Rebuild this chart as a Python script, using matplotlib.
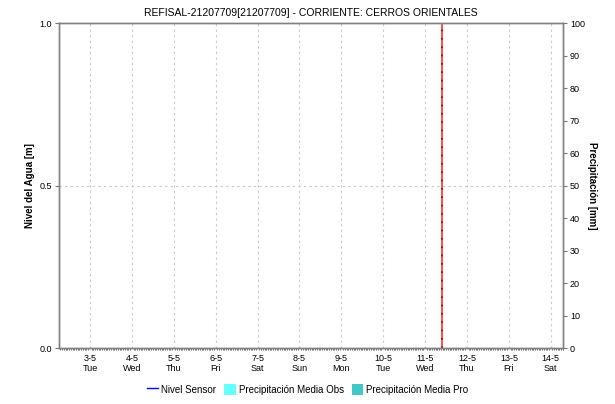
import numpy as np
import matplotlib
matplotlib.use('Agg')
import matplotlib.pyplot as plt
import matplotlib.dates as mdates
from matplotlib.patches import Patch
from matplotlib.lines import Line2D
from datetime import datetime, timedelta

plt.rcParams['font.family'] = ['Liberation Sans', 'DejaVu Sans']

# data (no sensor/precip values shown)
dias = ['3-5', '4-5', '5-5', '6-5', '7-5', '8-5', '9-5', '10-5', '11-5', '12-5', '13-5', '14-5']
semana = ['Tue', 'Wed', 'Thu', 'Fri', 'Sat', 'Sun', 'Mon', 'Tue', 'Wed', 'Thu', 'Fri', 'Sat']
nivel_t = []
nivel_v = []
precip_obs = []
precip_pro = []
inicio = datetime(2022, 5, 2, 6, 15)
fin = datetime(2022, 5, 14, 7, 0)
ahora = datetime(2022, 5, 11, 9, 45)

fig = plt.figure(figsize=(6.15, 4.04), dpi=100)
ax = fig.add_axes([0.0959, 0.1386, 0.8195, 0.8044])
ax2 = ax.twinx()

ax.plot(nivel_t, nivel_v, color='#0000ff', lw=1)
ax.set_xlim(inicio, fin)
ax.set_ylim(0, 1)
ax2.set_ylim(0, 100)

ticks = [datetime(2022, 5, 3) + timedelta(days=i) for i in range(len(dias))]
ax.set_xticks(ticks)
ax.set_xticklabels([f'{d}\n{s}' for d, s in zip(dias, semana)], fontsize=6.5, linespacing=1.2)
ax.xaxis.set_minor_locator(mdates.HourLocator(interval=1))
ax.tick_params(axis='x', which='major', length=0, pad=4)
ax.tick_params(axis='x', which='minor', length=1.5, width=0.5, color='#333333')
ax.set_yticks([0, 0.5, 1.0])
ax.set_yticklabels(['0.0', '0.5', '1.0'], fontsize=6.5)
ax.tick_params(axis='y', length=3, width=0.8, color='#777777', pad=2)
ax2.set_yticks(np.arange(0, 101, 10))
ax2.tick_params(axis='y', labelsize=6.5, length=3, width=0.8, color='#777777', pad=2)

ax.grid(True, axis='x', linestyle=(0, (2, 3)), color='#c8c8c8', lw=0.8)
ax.axhline(0.5, linestyle=(0, (2, 3)), color='#c8c8c8', lw=0.8)

for a in (ax, ax2):
    for s in a.spines.values():
        s.set_color('#808080')
        s.set_linewidth(1)

ax.axvline(ahora, color='#ff3030', lw=1.2)
ax.axvline(ahora, color='#aa0000', lw=1.2, linestyle=(0, (1, 4)))

ax.set_ylabel('Nivel del Agua [m]', fontsize=7, fontweight='bold', labelpad=3)
ax2.set_ylabel('Precipitación [mm]', fontsize=7, fontweight='bold', rotation=270, labelpad=9)
ax.set_title('REFISAL-21207709[21207709] - CORRIENTE: CERROS ORIENTALES', fontsize=7.5, pad=5)

handles = [Line2D([0], [0], color='#0000ff', lw=1),
           Patch(facecolor='#66ffff', edgecolor='none'),
           Patch(facecolor='#40c8c8', edgecolor='none')]
fig.legend(handles, ['Nivel Sensor', 'Precipitación Media Obs', 'Precipitación Media Pro'],
           loc='lower center', bbox_to_anchor=(0.5, 0.0), ncol=3, frameon=False,
           fontsize=7, handlelength=1.2, handletextpad=0.3, columnspacing=0.8, handleheight=1.4)

fig.savefig('out.png', dpi=100)
